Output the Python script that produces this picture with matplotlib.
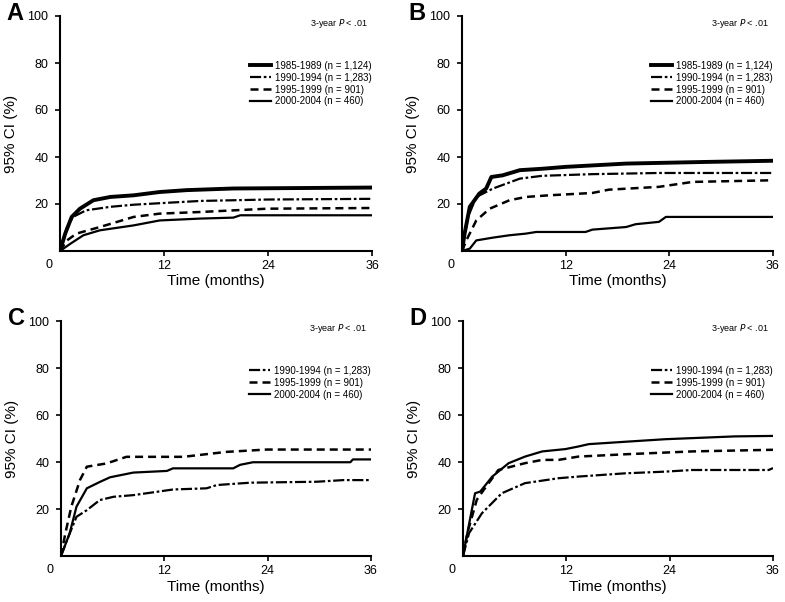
import matplotlib
matplotlib.use("Agg")
import matplotlib.pyplot as plt
from matplotlib.lines import Line2D

plt.rcParams['font.family'] = ['Liberation Sans', 'DejaVu Sans']

# ---------------- data (months, cumulative incidence %) ----------------
labels_all = ["1985-1989 (n = 1,124)", "1990-1994 (n = 1,283)",
              "1995-1999 (n = 901)", "2000-2004 (n = 460)"]

# Panel A
A_t_8589 = [0, 0.6, 1.35, 2.3, 3.85, 5.8, 8.5, 11.5, 14.6, 20, 36]
A_v_8589 = [0, 7.4, 14.5, 18, 21.6, 23, 23.7, 25.1, 25.9, 26.6, 27]
A_t_9094 = [0, 0.8, 1.5, 3, 5.8, 8.5, 12.3, 16.2, 23.9, 36]
A_v_9094 = [0, 10, 14.5, 17.3, 18.8, 19.7, 20.5, 21.3, 21.9, 22.2]
A_t_9599 = [0, 0.8, 1.9, 4.6, 8.5, 11.5, 16.2, 23.9, 36]
A_v_9599 = [0, 4.5, 7.4, 10.2, 14.5, 15.9, 16.6, 18, 18.3]
A_t_0004 = [0, 1.2, 2.7, 4.6, 8.5, 11.5, 16.2, 20, 20.8, 36]
A_v_0004 = [0, 3.1, 6.7, 8.8, 10.9, 13, 13.8, 14.2, 15.2, 15.2]

# Panel B
B_t_8589 = [0, 0.3, 0.9, 2, 2.8, 3.4, 4.7, 6.7, 9.3, 12, 19, 28.2, 36]
B_v_8589 = [0, 7.4, 18.8, 24.4, 26.6, 31.5, 32.2, 34.4, 35, 35.8, 37.2, 37.9, 38.4]
B_t_9094 = [0, 0.7, 1.65, 3.6, 6.7, 9.3, 15.1, 22.8, 36]
B_v_9094 = [0, 14.5, 23, 26.6, 30.8, 32, 32.7, 33.2, 33.2]
B_t_9599 = [0, 0.5, 1.65, 3.2, 5.5, 7.4, 10.1, 15.1, 17, 22.8, 26.7, 36]
B_v_9599 = [0, 4.5, 13, 18, 21.6, 23, 23.7, 24.7, 26.1, 27.3, 29.4, 30.1]
B_t_0004 = [0, 0.9, 1.65, 3.6, 5.5, 7.4, 8.6, 14.3, 15.1, 19, 20.1, 22.8, 23.6, 36]
B_v_0004 = [0, 1, 4.5, 5.7, 6.7, 7.4, 8.1, 8.1, 9.1, 10.2, 11.4, 12.4, 14.5, 14.5]

# Panel C
C_t_9094 = [0, 0.7, 1.8, 3, 4.5, 6.1, 8.4, 11.1, 13, 16.9, 18.1, 22, 29.7, 32.8, 36]
C_v_9094 = [0, 6.8, 16.7, 19.5, 23.8, 25.2, 25.9, 27.3, 28.3, 28.8, 30.2, 31.2, 31.6, 32.3, 32.3]
C_t_9599 = [0, 0.5, 1.2, 2.2, 3, 5.3, 7.6, 14.2, 19.2, 23.9, 36]
C_v_9599 = [0, 9.6, 21, 32.3, 38, 39.4, 42.2, 42.2, 44.3, 45.3, 45.3]
C_t_0004 = [0, 1, 1.8, 3, 4.5, 5.7, 8.4, 12.3, 13, 20, 20.8, 22.3, 33.6, 33.9, 36]
C_v_0004 = [0, 9.6, 21, 28.8, 31.5, 33.5, 35.5, 36.2, 37.3, 37.3, 38.8, 39.9, 39.9, 41.1, 41.1]

# Panel D
D_t_9094 = [0, 0.7, 2.2, 4.5, 7.2, 11.1, 13.4, 18.9, 23.5, 26.6, 35.5, 36]
D_v_9094 = [0, 9.7, 18.2, 26.7, 31, 33.1, 33.8, 35.2, 35.9, 36.6, 36.6, 37.4]
D_t_9599 = [0, 0.5, 1.6, 2.4, 4.1, 7.2, 9.2, 11.1, 13.4, 18.9, 26.6, 36]
D_v_9599 = [0, 9.7, 23.9, 28.1, 36.6, 39.5, 40.9, 40.9, 42.3, 43.3, 44.5, 45.2]
D_t_0004 = [0, 0.5, 1.4, 2, 3.4, 5.3, 7.2, 9.2, 11.9, 13.4, 14.6, 19.2, 23.5, 31.6, 36]
D_v_0004 = [0, 9.7, 26.7, 27.4, 33.8, 39.5, 42.3, 44.5, 45.5, 46.6, 47.6, 48.7, 49.7, 50.9, 51.1]

x_ticks = [12, 24, 36]
y_ticks = [20, 40, 60, 80, 100]

# ---------------- styles ----------------
styles = {
    0: dict(color='black', lw=2.8, ls='-'),
    1: dict(color='black', lw=1.6, ls=(0, (5, 1.2, 1.2, 1.2))),
    2: dict(color='black', lw=1.8, ls=(0, (3.2, 2.0))),
    3: dict(color='black', lw=1.6, ls='-'),
}

panels = [
    ("A", [60, 16, 372, 251], [(0, A_t_8589, A_v_8589), (1, A_t_9094, A_v_9094),
                               (2, A_t_9599, A_v_9599), (3, A_t_0004, A_v_0004)]),
    ("B", [462, 16, 773, 251], [(0, B_t_8589, B_v_8589), (1, B_t_9094, B_v_9094),
                                (2, B_t_9599, B_v_9599), (3, B_t_0004, B_v_0004)]),
    ("C", [61, 321, 371, 556], [(1, C_t_9094, C_v_9094), (2, C_t_9599, C_v_9599),
                                (3, C_t_0004, C_v_0004)]),
    ("D", [463, 321, 773, 556], [(1, D_t_9094, D_v_9094), (2, D_t_9599, D_v_9599),
                                 (3, D_t_0004, D_v_0004)]),
]

W, H = 785, 602
fig = plt.figure(figsize=(W / 100, H / 100), dpi=100)

for letter, (x0, y0, x1, y1), series in panels:
    ax = fig.add_axes([x0 / W, 1 - y1 / H, (x1 - x0) / W, (y1 - y0) / H])
    for idx, t, v in series:
        ax.plot(t, v, **styles[idx], solid_capstyle='butt', dash_capstyle='butt')
    ax.set_xlim(0, 36)
    ax.set_ylim(0, 100)
    ax.set_xticks(x_ticks)
    ax.set_yticks(y_ticks)
    for s in ['top', 'right']:
        ax.spines[s].set_visible(False)
    for s in ['left', 'bottom']:
        ax.spines[s].set_linewidth(1.5)
    ax.tick_params(axis='both', direction='out', length=3.5, width=1.2,
                   labelsize=9, colors='black')
    ax.tick_params(axis='y', pad=5)
    ax.tick_params(axis='x', pad=3)
    ax.text(-0.035, -0.035, "0", transform=ax.transAxes, ha='center', va='top', fontsize=9)
    ax.set_ylabel("95% CI (%)", fontsize=11)
    ax.yaxis.set_label_coords(-0.135, 0.5)
    ax.set_xlabel("Time (months)", fontsize=11)
    ax.xaxis.set_label_coords(0.5, -0.1)
    ax.text(-0.145, 1.01, letter, transform=ax.transAxes, fontsize=17, fontweight='bold',
            ha='center', va='center')
    ax.text(0.985, 0.966, r"3-year $\mathit{P}$ < .01", transform=ax.transAxes,
            ha='right', va='center', fontsize=6.5)
    handles = [Line2D([0], [0], **styles[idx]) for idx, _, _ in series]
    labs = [labels_all[idx] for idx, _, _ in series]
    ax.legend(handles, labs, loc='upper right', bbox_to_anchor=(1.0, 0.81),
              frameon=False, fontsize=7, handlelength=2.2, handletextpad=0.4,
              labelspacing=0.2, borderaxespad=0.0, borderpad=0.0)

fig.savefig("out.png", dpi=100)
